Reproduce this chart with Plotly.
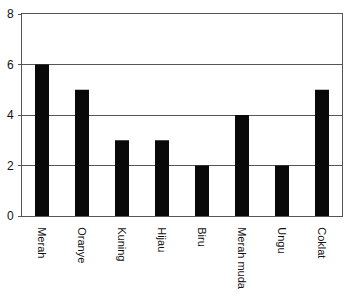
import plotly.graph_objects as go

categories = ["Merah", "Oranye", "Kuning", "Hijau", "Biru", "Merah muda", "Ungu", "Coklat"]
values = [6, 5, 3, 3, 2, 4, 2, 5]
y_ticks = [0, 2, 4, 6, 8]

fig = go.Figure(go.Bar(x=categories, y=values, marker=dict(color="#080808", line=dict(width=0)), width=0.35))

fig.update_layout(
    width=351, height=297,
    margin=dict(l=22, r=9, t=7, b=79),
    paper_bgcolor="white", plot_bgcolor="white",
    font=dict(family="Liberation Sans, Arial, sans-serif", size=11, color="#111"),
    showlegend=False,
    bargap=0.65,
)
fig.update_xaxes(
    tickangle=90, showline=True, linecolor="#555", linewidth=1, mirror=True,
    ticks="", showgrid=False, tickfont=dict(size=11), ticklabelstandoff=8,
)
fig.update_yaxes(
    range=[0, 8], tickvals=y_ticks, showline=True, linecolor="#555", linewidth=1, mirror=True,
    showgrid=True, gridcolor="#555", gridwidth=1, ticks="outside", ticklen=3, tickcolor="#555",
    tickfont=dict(size=12), zeroline=False, ticklabelstandoff=2,
)
fig.write_html("out.html")
